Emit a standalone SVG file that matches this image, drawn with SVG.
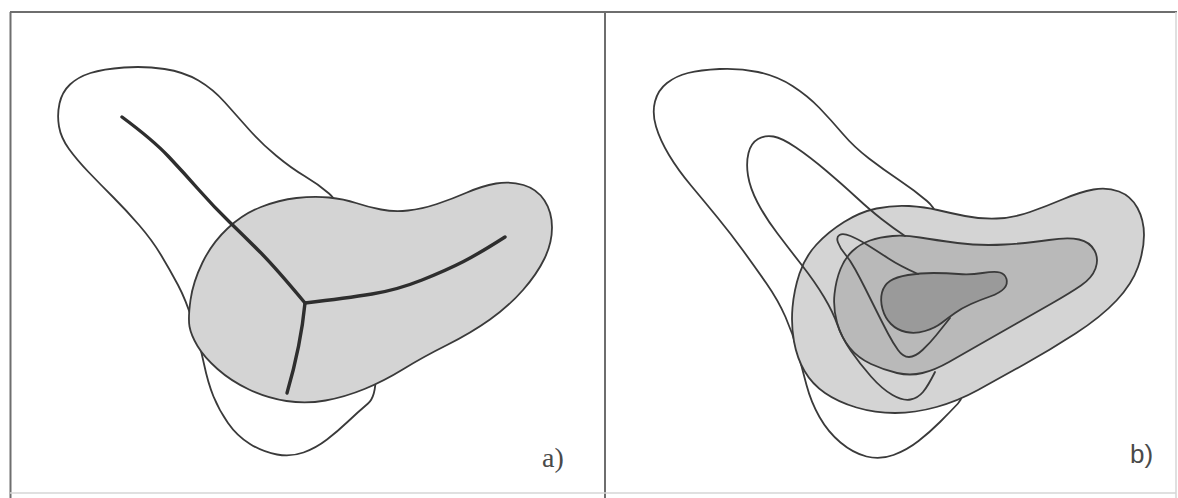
<svg xmlns="http://www.w3.org/2000/svg" width="1178" height="498" viewBox="0 0 1178 498">
<style>
.frame{fill:none;stroke:#6e6e6e;stroke-width:2}
.faint{fill:none;stroke:#d6d6d6;stroke-width:1.5}
.outline{fill:none;stroke:#3a3a3a;stroke-width:1.8;stroke-linejoin:round;stroke-linecap:round}
.white{fill:#ffffff;stroke:#3a3a3a;stroke-width:1.8;stroke-linejoin:round}
.light{fill:#d4d4d4;stroke:#3a3a3a;stroke-width:1.8;stroke-linejoin:round}
.medium{fill:#b9b9b9;stroke:#3a3a3a;stroke-width:1.8;stroke-linejoin:round}
.dark{fill:#9a9a9a;stroke:#3a3a3a;stroke-width:1.8;stroke-linejoin:round}
.skel{fill:none;stroke:#2e2e2e;stroke-width:3.4;stroke-linecap:round;stroke-linejoin:miter}
.lblserif{font-family:"Liberation Serif","Times New Roman",serif;font-size:28px;fill:#4a4a4a}
.lblsans{font-family:"Liberation Sans",Arial,sans-serif;font-size:26px;fill:#4a4a4a}
</style>
<rect x="0" y="0" width="1178" height="498" fill="#ffffff"/>
<g id="frame">
<path class="frame" d="M10,12 H1177 M10.5,12 V498 M605,12 V498"/>
<path class="faint" d="M1176,12 V498 M10,493 H1176"/>
</g>
<g id="panel-a">
<g id="a-outer">
<path class="white" d="M59,126.5 Q57,115 59.5,103.5 Q62,92 70,84.5 Q78,77 90.5,73 Q103,69 124,67.5 Q145,66 164.5,69 Q184,72 198.5,80.5 Q213,89 225,102.5 Q237,116 249,129.5 Q261,143 276,155.5 Q291,168 304.5,176 Q318,184 329,193.5 Q340,203 349,231.5 Q358,260 365,295 Q372,330 375,362.5 Q378,395 368,403.5 Q358,412 348,421.5 Q338,431 327,439.5 Q316,448 303.5,452.5 Q291,457 277,454.5 Q263,452 250,444 Q237,436 228,423 Q219,410 213.5,396.5 Q208,383 204,364 Q200,345 193,322.5 Q186,300 178,285 Q170,270 161,255 Q152,240 139,225 Q126,210 113,197 Q100,184 88.5,172 Q77,160 69,149 Q61,138 59,126.5 Z"/>
</g>
<g id="a-grey">
<path class="light" d="M189.5,326.5 Q188,318 190.5,300 Q193,282 202.5,262.5 Q212,243 227.5,228.5 Q243,214 261,207 Q279,200 296.5,198 Q314,196 329,197.5 Q344,199 356,203 Q368,207 381,209.5 Q394,212 408,210.5 Q422,209 437,204 Q452,199 467,192.5 Q482,186 496,183.5 Q510,181 523.5,185 Q537,189 544.5,200.5 Q552,212 552,227.5 Q552,243 544.5,258.5 Q537,274 523,290 Q509,306 490,319.5 Q471,333 447,345 Q423,357 403.5,369 Q384,381 364.5,389 Q345,397 325.5,400.5 Q306,404 286.5,401 Q267,398 249,389.5 Q231,381 217.5,369 Q204,357 197.5,346 Q191,335 189.5,326.5 Z"/>
</g>
<g id="skeleton">
<path class="skel" d="M122,117 Q153,140 168.5,156.5 Q184,173 199,190 Q214,207 229.5,222 Q245,237 260,252 Q275,267 305,303"/>
<path class="skel" d="M305,303 Q347,298 372,294 Q397,290 422,280 Q447,270 463.5,261.5 Q480,253 505,237"/>
<path class="skel" d="M305,303 Q301,345 287,393"/>
</g>
<g id="label-a"><text class="lblserif" x="542" y="467">a)</text></g>
</g>
<g id="panel-b">
<g id="b-outer">
<path class="white" d="M656,126.5 Q652,113 655,101.5 Q658,90 667,83 Q676,76 688,73 Q700,70 719.5,69 Q739,68 758,72 Q777,76 792.5,86 Q808,96 819.5,108 Q831,120 842.5,133.5 Q854,147 869,158.5 Q884,170 899,180 Q914,190 927,201 Q940,212 945,241 Q950,270 956,305 Q962,340 964,367.5 Q966,395 958,403.5 Q950,412 940,422 Q930,432 918.5,441 Q907,450 893.5,455 Q880,460 866.5,456.5 Q853,453 840.5,442.5 Q828,432 819.5,417 Q811,402 806.5,385 Q802,368 797.5,351 Q793,334 785.5,317 Q778,300 766.5,283.5 Q755,267 743,250.5 Q731,234 717.5,217.5 Q704,201 691,185.5 Q678,170 669,155 Q660,140 656,126.5 Z"/>
</g>
<g id="b-light">
<path class="light" d="M794,341.5 Q791,325 792.5,307.5 Q794,290 799.5,273.5 Q805,257 816.5,244.5 Q828,232 844,222 Q860,212 876.5,208.5 Q893,205 909,206 Q925,207 937.5,210 Q950,213 965,216 Q980,219 996.5,218.5 Q1013,218 1030,212 Q1047,206 1063.5,199 Q1080,192 1093.5,189.5 Q1107,187 1119,191.5 Q1131,196 1137.5,208 Q1144,220 1144,235 Q1144,250 1138,267 Q1132,284 1116.5,300.5 Q1101,317 1075.5,333.5 Q1050,350 1024,364.5 Q998,379 978,390 Q958,401 936.5,407 Q915,413 895,413 Q875,413 856.5,407.5 Q838,402 825,393 Q812,384 804.5,371 Q797,358 794,341.5 Z"/>
</g>
<g id="b-medium">
<path class="medium" d="M892.5,236 Q905,235 920,237.5 Q935,240 957.5,243 Q980,246 1005,244.5 Q1030,243 1049,240 Q1068,237 1079,239.5 Q1090,242 1094.5,250.5 Q1099,259 1095.5,268.5 Q1092,278 1081,285.5 Q1070,293 1052.5,303 Q1035,313 1016.5,323.5 Q998,334 980.5,344 Q963,354 949,362 Q935,370 922.5,373 Q910,376 897,373 Q884,370 871,364 Q858,358 849.5,347.5 Q841,337 837,322.5 Q833,308 834.5,294 Q836,280 840.5,269 Q845,258 852.5,251 Q860,244 870,240.5 Q880,237 892.5,236 Z"/>
</g>
<g id="b-second-contour">
<path class="outline" d="M905,236 Q893,228 881.5,219 Q870,210 856.5,197.5 Q843,185 826.5,171 Q810,157 796,147.5 Q782,138 773.5,136.5 Q765,135 758,139 Q751,143 748.5,153 Q746,163 748,175.5 Q750,188 757.5,202.5 Q765,217 777.5,233.5 Q790,250 802.5,266 Q815,282 824,297 Q833,312 837.5,325 Q842,338 851,351 Q860,364 871,376.5 Q882,389 892.5,395 Q903,401 910.5,399.5 Q918,398 923,392 Q928,386 935,372"/>
</g>
<g id="b-dark">
<path class="dark" d="M882.5,309 Q880,300 882,292.5 Q884,285 890,281 Q896,277 908,275 Q920,273 933.5,273 Q947,273 958.5,274 Q970,275 982.5,273 Q995,271 1000,272.5 Q1005,274 1006.5,279 Q1008,284 1004,288.5 Q1000,293 990,296.5 Q980,300 971,304 Q962,308 955,313 Q948,318 941.5,323 Q935,328 925,331 Q915,334 906,332 Q897,330 891,324 Q885,318 882.5,309 Z"/>
</g>
<g id="b-third-contour">
<path class="outline" d="M918,274 Q900,266 888.5,258.5 Q877,251 867.5,245 Q858,239 850.5,236 Q843,233 839.5,235 Q836,237 838,242.5 Q840,248 845,254 Q850,260 855,269 Q860,278 865,288 Q870,298 876.5,311 Q883,324 888,333.5 Q893,343 898,350 Q903,357 909,357 Q915,357 922.5,350 Q930,343 936,335.5 Q942,328 950,318"/>
</g>
<g id="label-b"><text class="lblsans" x="1130" y="463">b)</text></g>
</g>
</svg>
